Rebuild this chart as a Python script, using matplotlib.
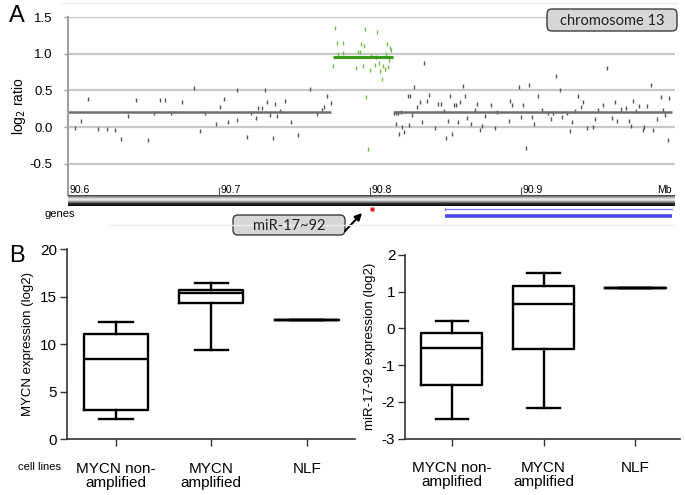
import matplotlib
matplotlib.use('Agg')
import matplotlib.pyplot as plt
from matplotlib.patches import FancyBboxPatch, FancyArrowPatch
import numpy as np

plt.rcParams['font.family'] = ['Liberation Sans', 'DejaVu Sans']
plt.rcParams['axes.unicode_minus'] = False

# ---- panel A data: log2 ratio probes on chromosome 13 ----
left_x = [90.6046, 90.6088, 90.6135, 90.6201, 90.6258, 90.6311, 90.6351, 90.6400, 90.6450,
          90.6532, 90.6567, 90.6609, 90.6645, 90.6682, 90.6757, 90.6832, 90.6876, 90.6907,
          90.6978, 90.7007, 90.7031, 90.7062, 90.7117, 90.7117, 90.7188, 90.7210, 90.7243,
          90.7256, 90.7283, 90.7305, 90.7316, 90.7340, 90.7356, 90.7369, 90.7384, 90.7404,
          90.7437, 90.7479, 90.7523, 90.7603, 90.7647, 90.7680, 90.7695, 90.7717, 90.7742]
left_y = [-0.01, 0.09, 0.38, -0.02, -0.02, -0.04, -0.16, 0.15, 0.37,
          -0.17, 0.19, 0.37, 0.37, 0.19, 0.34, 0.54, -0.05, 0.19,
          0.05, 0.27, 0.38, 0.07, 0.50, 0.10, -0.13, 0.19, 0.13,
          0.26, 0.26, 0.50, 0.34, 0.17, -0.14, 0.31, 0.15, 0.22,
          0.36, 0.07, -0.10, 0.52, 0.18, 0.24, 0.28, 0.43, 0.33]

amp_x = [90.7757, 90.7770, 90.7781, 90.7790, 90.7820, 90.7820, 90.7910, 90.7921, 90.7932,
         90.7942, 90.7951, 90.7958, 90.7969, 90.7975, 90.7989, 90.8000, 90.8008, 90.8033,
         90.8042, 90.8049, 90.8060, 90.8066, 90.8079, 90.8084, 90.8097, 90.8106, 90.8114,
         90.8121, 90.8128, 90.8130, 90.8137]
amp_y = [0.84, 1.35, 1.14, 0.99, 1.14, 1.01, 0.80, 1.02, 1.02,
         1.13, 0.84, 1.11, 1.34, 0.41, -0.29, 0.78, 0.97, 0.85,
         0.96, 1.30, 0.87, 0.77, 0.65, 0.84, 0.79, 0.99, 1.13,
         0.82, 0.92, 1.08, 1.05]

right_x = [90.8161, 90.8172, 90.8172, 90.8183, 90.8192, 90.8203, 90.8214, 90.8227, 90.8250,
           90.8256, 90.8265, 90.8276, 90.8291, 90.8313, 90.8331, 90.8342, 90.8358, 90.8377,
           90.8393, 90.8430, 90.8448, 90.8468, 90.8490, 90.8503, 90.8514, 90.8530, 90.8545,
           90.8558, 90.8571, 90.8583, 90.8596, 90.8616, 90.8629, 90.8644, 90.8671, 90.8697,
           90.8709, 90.8728, 90.8742, 90.8762, 90.8801, 90.8826, 90.8843, 90.8923, 90.8927,
           90.8940, 90.8987, 90.9000, 90.9015, 90.9033, 90.9055, 90.9073, 90.9086, 90.9113,
           90.9137, 90.9179, 90.9197, 90.9214, 90.9232, 90.9258, 90.9272, 90.9307, 90.9327,
           90.9340, 90.9360, 90.9376, 90.9397, 90.9413, 90.9435, 90.9477, 90.9488, 90.9512,
           90.9545, 90.9572, 90.9603, 90.9623, 90.9636, 90.9660, 90.9695, 90.9713, 90.9726,
           90.9740, 90.9764, 90.9781, 90.9808, 90.9817, 90.9834, 90.9859, 90.9874, 90.9899,
           90.9925, 90.9938, 90.9956, 90.9971, 90.9980]
right_y = [0.19, 0.19, 0.04, 0.20, -0.09, 0.21, 0.00, -0.06, 0.43,
           0.03, 0.43, 0.16, 0.55, 0.28, 0.34, 0.07, 0.87, 0.36,
           0.44, -0.01, 0.32, 0.31, 0.22, -0.15, 0.08, 0.42, -0.09,
           0.30, 0.30, 0.07, 0.34, 0.56, 0.43, 0.12, 0.05, 0.23,
           0.31, -0.04, 0.02, 0.15, 0.30, -0.01, 0.21, 0.09, 0.36,
           0.30, 0.55, 0.14, 0.30, -0.28, 0.57, 0.14, 0.05, 0.43,
           0.23, 0.19, 0.11, 0.19, 0.70, 0.51, 0.14, 0.20, -0.05,
           0.07, 0.22, 0.43, 0.27, 0.35, -0.01, 0.00, 0.11, 0.24,
           0.30, 0.81, 0.13, 0.35, 0.09, 0.25, 0.26, 0.08, 0.02,
           0.36, 0.22, 0.29, -0.04, 0.00, 0.29, 0.58, -0.04, 0.11,
           0.41, 0.23, 0.16, -0.18, 0.40]

# segment means (start, end, level)
seg_left = (90.6, 90.7742, 0.21)
seg_amp = (90.7757, 90.8152, 0.95)
seg_right = (90.8161, 91.0, 0.21)

mb_ticks = [90.6, 90.7, 90.8, 90.9]
mir_pos = 90.801
gene_start, gene_end = 90.8495, 91.0

# ---- panel B data: box stats (whislo, q1, med, q3, whishi) ----
groups = ['MYCN non-\namplified', 'MYCN\namplified', 'NLF']
mycn_stats = [(2.1, 3.12, 8.46, 11.12, 12.35),
              (9.37, 14.39, 15.4, 15.68, 16.42),
              (12.56, 12.56, 12.56, 12.56, 12.56)]
mir_stats = [(-2.47, -1.55, -0.535, -0.136, 0.21),
             (-2.16, -0.545, 0.653, 1.15, 1.506),
             (1.107, 1.107, 1.107, 1.107, 1.107)]

W, H = 685, 495


def box(x0, y0, x1, y1):
    # pixel box -> figure fraction rect
    return [x0 / W, 1 - y1 / H, (x1 - x0) / W, (y1 - y0) / H]


fig = plt.figure(figsize=(W / 100, H / 100), dpi=100)

# ---------------- panel A ----------------
ax = fig.add_axes(box(68, 17, 675, 195))
xmin, xmax = 90.6, 91.002
ax.set_xlim(xmin, xmax)
ax.set_ylim(-0.922, 1.5)
ax.set_yticks([-0.5, 0, 0.5, 1.0, 1.5])
ax.set_yticklabels(['-0.5', '0.0', '0.5', '1.0', '1.5'], fontsize=9.5)
ax.grid(axis='y', color='#c8c8c8', lw=1.6, zorder=0)
for s in ['top', 'right', 'bottom']:
    ax.spines[s].set_visible(False)
ax.spines['left'].set_color('#a0a0a0')
ax.spines['left'].set_linewidth(1.5)
ax.tick_params(axis='y', length=3, width=1, color='#a0a0a0', pad=8)
ax.set_xticks(mb_ticks)
ax.tick_params(axis='x', direction='in', length=6, width=0.8, color='#555555',
               labelbottom=False)
for t in mb_ticks:
    ax.text(t + 0.0008, -0.85, f'{t:.1f}', fontsize=7.5, ha='left', va='center')
ax.text(xmax - 0.002, -0.85, 'Mb', fontsize=7.5, ha='right', va='center')
ax.set_ylabel('log$_2$ ratio', fontsize=10, labelpad=4)
ax.yaxis.set_label_coords(-0.066, 0.5)

ax.plot(left_x, left_y, '|', color='#555555', ms=3.5, mew=1)
ax.plot(right_x, right_y, '|', color='#555555', ms=3.5, mew=1)
ax.plot(amp_x, amp_y, '|', color='#6cc04a', ms=3.5, mew=1)
for (a, b, v), c in zip([seg_left, seg_right, seg_amp], ['#6e6e6e', '#6e6e6e', '#3a9a1a']):
    ax.plot([a, b], [v, v], color=c, lw=2.2 if c == '#3a9a1a' else 1.8, solid_capstyle='butt')

# chromosome ruler bar
axr = fig.add_axes(box(68, 195, 675, 206))
grad = np.array([0.30, 0.48, 0.68, 0.85, 0.90, 0.82, 0.62, 0.40, 0.20, 0.10, 0.08])
axr.imshow(np.tile(grad[:, None], (1, 50)), cmap='gray', vmin=0, vmax=1, aspect='auto')
axr.axis('off')

# genes track
axg = fig.add_axes(box(68, 206, 675, 226))
axg.set_xlim(xmin, xmax)
axg.set_ylim(20, 0)
axg.axis('off')
axg.plot([mir_pos], [3.3], 's', color='#e02020', ms=2.5, mec='none')
axg.plot([gene_start, gene_end], [3.3, 3.3], color='#8080ff', lw=0.9)
axg.plot([gene_start, gene_start], [2.3, 4.3], color='#8080ff', lw=0.9)
axg.plot([gene_start, gene_end], [10, 10], color='#4848e8', lw=2.6, solid_capstyle='butt')

# ---------------- panel B ----------------
def draw_box(axb, stats):
    bx = [dict(whislo=s[0], q1=s[1], med=s[2], q3=s[3], whishi=s[4], fliers=[]) for s in stats]
    lp = dict(color='black', lw=1.7)
    axb.bxp(bx, positions=[1, 2, 3], widths=0.67, capwidths=0.35, showfliers=False,
            boxprops=lp, medianprops=lp, whiskerprops=lp, capprops=lp, manage_ticks=False)
    axb.spines['top'].set_visible(False)
    axb.spines['right'].set_visible(False)
    for s in ['left', 'bottom']:
        axb.spines[s].set_linewidth(1.2)
        axb.spines[s].set_color('#333333')
    axb.set_xticks([1, 2, 3])
    axb.set_xticklabels(groups, fontsize=11, linespacing=1.05)
    axb.tick_params(axis='x', length=5, width=1, color='#333333', pad=11)
    axb.tick_params(axis='y', length=5, width=1, color='#333333', labelsize=11, pad=2)


b1 = fig.add_axes(box(66.7, 249.3, 355, 439.3))
draw_box(b1, mycn_stats)
b1.set_xlim(0.483, 3.507)
b1.set_ylim(0, 20)
b1.set_yticks([0, 5, 10, 15, 20])
b1.set_ylabel('MYCN expression (log2)', fontsize=9.5, labelpad=4)

b2 = fig.add_axes(box(405, 255, 680, 438.7))
draw_box(b2, mir_stats)
b2.set_xlim(0.491, 3.487)
b2.set_ylim(-3, 2)
b2.set_yticks([-3, -2, -1, 0, 1, 2])
b2.set_ylabel('miR-17-92 expression (log2)', fontsize=9.5, labelpad=4)

# ---------------- annotations (pixel overlay) ----------------
ov = fig.add_axes([0, 0, 1, 1])
ov.set_xlim(0, W)
ov.set_ylim(H, 0)
ov.axis('off')
ov.patch.set_visible(False)

ov.plot([60, 677], [3, 3], color='#eeeeee', lw=1)
ov.plot([108, 675], [225, 225], color='#eeeeee', lw=1)

ov.text(17, 16, 'A', fontsize=17, ha='center', va='center')
ov.text(17, 256, 'B', fontsize=17, ha='center', va='center')
ov.text(45, 214, 'genes', fontsize=8, ha='left', va='center')
ov.text(18, 467, 'cell lines', fontsize=8, ha='left', va='center')

for (x0, y0, x1, y1, lab) in [(233, 215, 345, 235, 'miR-17~92'),
                               (547, 9, 677, 31, 'chromosome 13')]:
    p = FancyBboxPatch((x0, y0), x1 - x0, y1 - y0,
                       boxstyle='round,pad=0,rounding_size=5',
                       fc='#d6d6d6', ec='#3c3c3c', lw=1)
    ov.add_patch(p)
    ov.text((x0 + x1) / 2, (y0 + y1) / 2 + 1, lab, fontsize=10.5,
            family=['Lato', 'DejaVu Sans'], ha='center', va='center', color='#222222')

ov.add_patch(FancyArrowPatch((345, 231), (362, 213), arrowstyle='-|>',
                             mutation_scale=10, shrinkA=0, shrinkB=0,
                             color='black', lw=1.5))

fig.savefig('out.png', dpi=100)
